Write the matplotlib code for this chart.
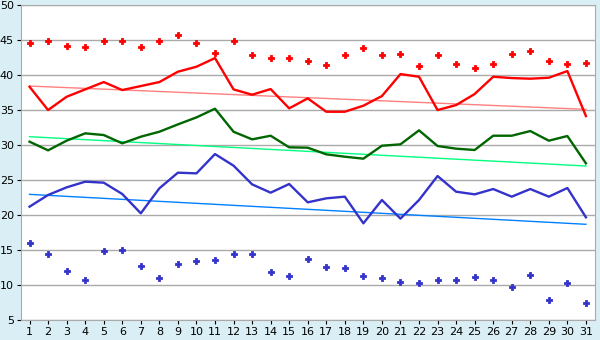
import matplotlib.pyplot as plt

days = list(range(1, 32))

max_temp = [44.6, 44.8, 44.2, 43.95, 44.8, 44.8, 43.95, 44.8, 45.67, 44.6,
            43.1, 44.8, 42.8, 42.5, 42.4, 41.95, 41.5, 42.8, 43.8, 42.8,
            43.0, 41.24, 42.8, 41.57, 40.95, 41.57, 42.95, 43.5, 41.95, 41.57, 41.7]
mean_max = [38.33, 35.0, 36.9, 37.95, 39.0, 37.86, 38.43, 39.0, 40.48, 41.19,
            42.43, 37.95, 37.19, 38.0, 35.24, 36.67, 34.76, 34.76, 35.62, 37.0,
            40.14, 39.76, 35.0, 35.71, 37.29, 39.76, 39.57, 39.48, 39.62, 40.57, 34.14]
mean_temp = [30.48, 29.24, 30.62, 31.67, 31.43, 30.24, 31.19, 31.9, 32.95, 33.95,
             35.19, 31.9, 30.81, 31.33, 29.67, 29.62, 28.67, 28.33, 28.05, 29.9,
             30.1, 32.1, 29.86, 29.48, 29.29, 31.33, 31.33, 32.0, 30.62, 31.29, 27.38]
mean_min = [21.19, 22.86, 23.95, 24.76, 24.62, 23.0, 20.24, 23.81, 26.05, 25.95,
            28.71, 27.05, 24.38, 23.19, 24.43, 21.81, 22.38, 22.62, 18.81, 22.14,
            19.48, 22.14, 25.57, 23.33, 22.95, 23.71, 22.62, 23.71, 22.62, 23.86, 19.67]
min_temp = [15.95, 14.38, 11.95, 10.67, 14.81, 14.95, 12.67, 10.95, 12.95, 13.38,
            13.52, 14.38, 14.38, 11.81, 11.24, 13.67, 12.52, 12.38, 11.24, 10.95,
            10.38, 10.24, 10.67, 10.67, 11.1, 10.67, 9.67, 11.38, 7.81, 10.24, 7.38]

# trend lines (start value on day 1, end value on day 31)
trend_max = [38.43, 35.1]
trend_mean = [31.19, 27.0]
trend_min = [22.95, 18.67]

fig = plt.figure(figsize=(6, 3.4), dpi=100, facecolor="#daeef5")
ax = fig.add_axes([0.035, 0.059, 0.957, 0.926])
ax.set_facecolor("white")

ends = [days[0], days[-1]]
ax.plot(ends, trend_max, color="#ff8080", lw=1)
ax.plot(ends, trend_mean, color="#00ff80", lw=1)
ax.plot(ends, trend_min, color="#0080ff", lw=1)

ax.plot(days, mean_max, color="#ff0000", lw=1.7)
ax.plot(days, mean_temp, color="#006600", lw=1.7)
ax.plot(days, mean_min, color="#3333cc", lw=1.7)

ax.plot(days, max_temp, "P", color="#ff0000", ms=5, mew=0.6, ls="none")
ax.plot(days, min_temp, "P", color="#3333cc", ms=5, mew=0.6, ls="none")

ax.set_xlim(0.54, 31.5)
ax.set_ylim(5, 50)
ax.set_xticks(days)
ax.set_yticks(range(5, 51, 5))
ax.yaxis.grid(True, color="#aaaaaa", lw=1)
ax.set_axisbelow(True)
for s in ax.spines.values():
    s.set_color("#aaaaaa")
ax.tick_params(axis="both", labelsize=8, length=3, color="#000000", pad=2)

fig.savefig("out.png", dpi=100, facecolor=fig.get_facecolor())
